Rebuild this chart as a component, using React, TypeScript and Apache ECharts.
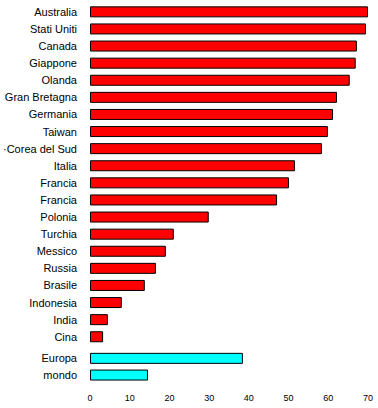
import React, { useEffect, useRef } from "react";
import * as echarts from "echarts";

const countries = [
  "Australia", "Stati Uniti", "Canada", "Giappone", "Olanda", "Gran Bretagna",
  "Germania", "Taiwan", "·Corea del Sud", "Italia", "Francia", "Francia",
  "Polonia", "Turchia", "Messico", "Russia", "Brasile", "Indonesia", "India", "Cina",
];
const countryValues = [
  70.0, 69.5, 67.2, 66.9, 65.4, 62.2, 61.2, 59.9, 58.4, 51.6, 50.1, 47.1,
  29.9, 21.1, 19.1, 16.6, 13.8, 8.0, 4.5, 3.3,
];
const regions = ["Europa", "mondo"];
const regionValues = [38.5, 14.6];
const xTicks = [0, 10, 20, 30, 40, 50, 60, 70];

export default function App() {
  const ref = useRef<HTMLDivElement>(null);
  useEffect(() => {
    if (!ref.current) return;
    const chart = echarts.init(ref.current, null, { renderer: "svg" });
    const font = "Liberation Sans, Arial, sans-serif";
    const yLabel = {
      color: "#000",
      fontSize: 11,
      fontFamily: font,
      margin: 13,
    };
    const xBase = {
      type: "value" as const,
      min: xTicks[0],
      max: xTicks[xTicks.length - 1],
      interval: 10,
      axisLine: { show: false },
      axisTick: { show: false },
      splitLine: { show: false },
    };
    chart.setOption({
      animation: false,
      grid: [
        { left: 90, right: 10, top: 3.3, height: 342, containLabel: false },
        { left: 90, right: 10, top: 350, height: 33.4, containLabel: false },
      ],
      xAxis: [
        { ...xBase, gridIndex: 0, axisLabel: { show: false } },
        {
          ...xBase,
          gridIndex: 1,
          axisLabel: { color: "#000", fontSize: 9, fontFamily: font, margin: 10 },
        },
      ],
      yAxis: [
        {
          type: "category",
          gridIndex: 0,
          data: countries,
          inverse: true,
          axisLine: { show: false },
          axisTick: { show: false },
          axisLabel: yLabel,
        },
        {
          type: "category",
          gridIndex: 1,
          data: regions,
          inverse: true,
          axisLine: { show: false },
          axisTick: { show: false },
          axisLabel: yLabel,
        },
      ],
      series: [
        {
          type: "bar",
          xAxisIndex: 0,
          yAxisIndex: 0,
          data: countryValues,
          barWidth: 11,
          itemStyle: { color: "#ff0000", borderColor: "#000", borderWidth: 1 },
        },
        {
          type: "bar",
          xAxisIndex: 1,
          yAxisIndex: 1,
          data: regionValues,
          barWidth: 11,
          itemStyle: { color: "#00ffff", borderColor: "#000", borderWidth: 1 },
        },
      ],
    });
    return () => chart.dispose();
  }, []);
  return (
    <div
      ref={ref}
      style={{ position: "absolute", left: 0, top: 0, width: 378, height: 408, background: "#fff" }}
    />
  );
}
